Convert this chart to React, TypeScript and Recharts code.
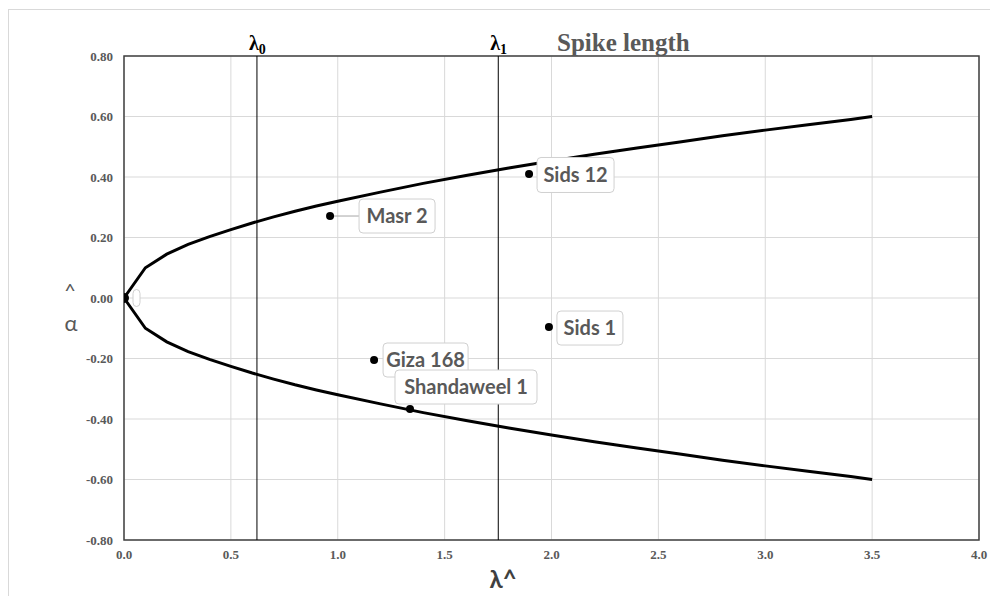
import {
  CartesianGrid,
  ComposedChart,
  Line,
  ReferenceArea,
  ReferenceLine,
  Scatter,
  XAxis,
  YAxis,
} from "recharts";

// boundary curve
const curveLambda = [0, 0.1, 0.2, 0.3, 0.4, 0.5, 0.6, 0.7, 0.8, 0.9, 1.0, 1.2, 1.4, 1.6, 1.8, 2.0, 2.2, 2.4, 2.6, 2.8, 3.0, 3.2, 3.4, 3.5];
const upperAlpha = [0, 0.1, 0.145, 0.177, 0.203, 0.226, 0.248, 0.268, 0.287, 0.304, 0.32, 0.35, 0.379, 0.405, 0.43, 0.453, 0.475, 0.496, 0.516, 0.536, 0.555, 0.573, 0.59, 0.6];
const lowerAlpha = [0, -0.1, -0.145, -0.177, -0.203, -0.226, -0.248, -0.268, -0.287, -0.304, -0.32, -0.35, -0.379, -0.405, -0.43, -0.453, -0.475, -0.496, -0.516, -0.536, -0.555, -0.573, -0.59, -0.6];

// varieties
const varietyNames = ["", "Masr 2", "Sids 12", "Sids 1", "Giza 168", "Shandaweel 1"];
const varietyLambda = [0, 0.964, 1.895, 1.988, 1.17, 1.338];
const varietyAlpha = [0, 0.271, 0.41, -0.096, -0.205, -0.367];

const lambda0 = 0.622;
const lambda1 = 1.751;

const xTicks = [0, 0.5, 1, 1.5, 2, 2.5, 3, 3.5, 4];
const yTicks = [-0.8, -0.6, -0.4, -0.2, 0, 0.2, 0.4, 0.6, 0.8];

const upperData = curveLambda.map((l, i) => ({ l, a: upperAlpha[i] }));
const lowerData = curveLambda.map((l, i) => ({ l, a: lowerAlpha[i] }));
const pointData = varietyNames.map((name, i) => ({ name, l: varietyLambda[i], a: varietyAlpha[i] }));

// label box placement relative to the dot
const labelBoxes: Record<string, { dx: number; dy: number; w: number; h: number; leader?: boolean }> = {
  "": { dx: 9, dy: 0, w: 7, h: 17 },
  "Masr 2": { dx: 29, dy: 0, w: 76, h: 34, leader: true },
  "Sids 12": { dx: 8, dy: 1, w: 77, h: 35 },
  "Sids 1": { dx: 8, dy: 1, w: 66, h: 34 },
  "Giza 168": { dx: 9, dy: 0, w: 85, h: 34 },
  "Shandaweel 1": { dx: -15, dy: -22, w: 142, h: 34 },
};

const SERIF = "'Liberation Serif', 'Times New Roman', serif";
const SANS = "Lato, 'Open Sans', sans-serif";
const GREY = "#595959";

const PointWithLabel = (props: any) => {
  const { cx, cy, payload } = props;
  if (cx == null || cy == null) return null;
  const box = labelBoxes[payload.name] ?? { dx: 8, dy: 0, w: 60, h: 34 };
  const bx = cx + box.dx;
  const by = cy + box.dy - box.h / 2;
  return (
    <g>
      {box.leader && <line x1={cx} y1={cy} x2={bx} y2={cy} stroke="#a6a6a6" strokeWidth={1} />}
      <rect x={bx} y={by} width={box.w} height={box.h} rx={4} ry={4} fill="#ffffff" stroke="#d0d0d0" strokeWidth={1} />
      {payload.name && (
        <text
          x={bx + box.w / 2}
          y={by + box.h / 2 + 7}
          textAnchor="middle"
          fontFamily={SANS}
          fontSize={20}
          fontWeight={700}
          fill={GREY}
        >
          {payload.name}
        </text>
      )}
      <circle cx={cx} cy={cy} r={payload.name ? 4 : 5} fill="#000000" />
    </g>
  );
};

const lambdaLabel = (sub: string) => (props: any) => {
  const vb = props.viewBox ?? {};
  const x = vb.x ?? 0;
  const y = vb.y ?? 0;
  return (
    <text x={x - 8} y={y - 6} fontFamily={SERIF} fontWeight={700} fill="#000000">
      <tspan fontSize={20}>λ</tspan>
      <tspan fontSize={14} dy={4}>{sub}</tspan>
    </text>
  );
};

export default function App() {
  return (
    <div style={{ position: "relative", width: 990, height: 588 }}>
      <div
        style={{
          position: "absolute",
          left: 0,
          top: 1,
          width: 992,
          height: 590,
          borderTop: "1px solid #d9d9d9",
          borderLeft: "1px solid #d9d9d9",
          boxSizing: "border-box",
        }}
      />
      <ComposedChart width={990} height={588} margin={{ top: 48, right: 19, bottom: 26, left: 0 }}>
        <CartesianGrid stroke="#d9d9d9" strokeWidth={1} />
        <XAxis
          type="number"
          dataKey="l"
          domain={[0, 4]}
          ticks={xTicks}
          allowDataOverflow
          tickFormatter={(v: number) => v.toFixed(1)}
          axisLine={false}
          tickLine={false}
          tickMargin={4}
          height={30}
          tick={{ fontFamily: SERIF, fontSize: 13, fontWeight: 700, fill: GREY }}
        />
        <YAxis
          type="number"
          dataKey="a"
          domain={[-0.8, 0.8]}
          ticks={yTicks}
          allowDataOverflow
          tickFormatter={(v: number) => v.toFixed(2)}
          axisLine={false}
          tickLine={false}
          tickMargin={5}
          width={116}
          tick={{ fontFamily: SERIF, fontSize: 13, fontWeight: 700, fill: GREY }}
        />
        <ReferenceArea x1={0} x2={4} y1={-0.8} y2={0.8} fill="none" fillOpacity={0} stroke="#404040" strokeWidth={1.5} />
        <Line data={upperData} dataKey="a" type="linear" stroke="#000000" strokeWidth={3} dot={false} isAnimationActive={false} />
        <Line data={lowerData} dataKey="a" type="linear" stroke="#000000" strokeWidth={3} dot={false} isAnimationActive={false} />
        <Scatter data={pointData} dataKey="a" shape={PointWithLabel} isAnimationActive={false} />
        <ReferenceLine x={lambda0} stroke="#000000" strokeWidth={1} label={lambdaLabel("0")} />
        <ReferenceLine x={lambda1} stroke="#000000" strokeWidth={1} label={lambdaLabel("1")} />
      </ComposedChart>
      <svg width={990} height={588} style={{ position: "absolute", left: 0, top: 0, pointerEvents: "none" }}>
        <text x={549} y={43} fontFamily={SERIF} fontSize={25} fontWeight={700} fill={GREY}>
          Spike length
        </text>
        <text x={62} y={290} textAnchor="middle" fontFamily={SANS} fontSize={20} fill={GREY}>
          ^
        </text>
        <text x={63} y={323} textAnchor="middle" fontFamily={SANS} fontSize={22} fill={GREY}>
          α
        </text>
        <text x={495} y={580} textAnchor="middle" fontFamily={SANS} fontSize={24} fontWeight={700} fill="#404040">
          λ^
        </text>
      </svg>
    </div>
  );
}
